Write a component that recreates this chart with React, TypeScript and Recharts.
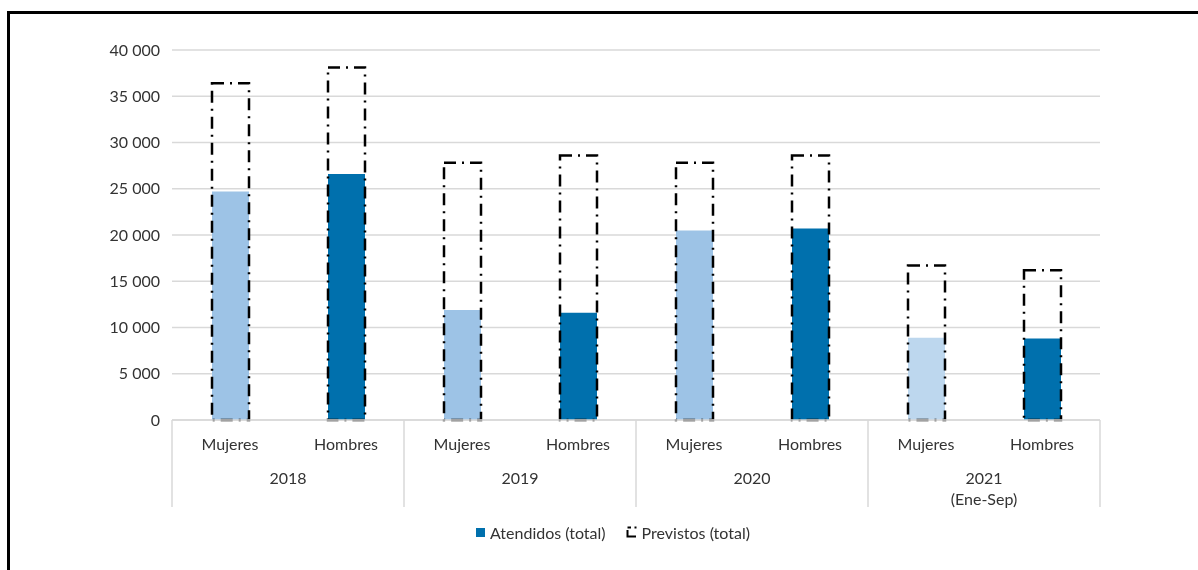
import React from 'react';
import { BarChart, Bar, XAxis, YAxis, CartesianGrid, Legend, Cell } from 'recharts';

// Categories
const years = ['2018', '2019', '2020', '2021'];
const yearNotes = ['', '', '', '(Ene-Sep)'];
const sexes = ['Mujeres', 'Hombres'];

// Series values, in the order 2018 Mujeres, 2018 Hombres, 2019 Mujeres, ...
const atendidos = [24700, 26600, 11900, 11600, 20500, 20700, 8900, 8800];
const previstos = [36400, 38100, 27800, 28600, 27800, 28600, 16700, 16200];

// Fill for each Atendidos bar
const barColors = ['#9DC3E6', '#0070AD', '#9DC3E6', '#0070AD', '#9DC3E6', '#0070AD', '#BDD7EE', '#0070AD'];

// Value axis ticks
const yTicks = [0, 5000, 10000, 15000, 20000, 25000, 30000, 35000, 40000];

const seriesNames = { atendidos: 'Atendidos (total)', previstos: 'Previstos (total)' };

const rows = years.flatMap((year, yi) =>
  sexes.map((sex, si) => {
    const i = yi * sexes.length + si;
    return {
      id: `${year}-${sex}`,
      year,
      note: yearNotes[yi],
      sex,
      atendidos: atendidos[i],
      previstos: previstos[i],
    };
  })
);

const FONT = 'Lato, "Noto Sans", sans-serif';
const TEXT = '#333333';
const GRID = '#d9d9d9';
const DASH = '12 6 2 6';

const formatThousands = (v: number) => String(v).replace(/\B(?=(\d{3})+(?!\d))/g, ' ');

// Two-level category tick: sex label per bar, year label centred under each pair
function CategoryTick(props: any) {
  const { x, y, payload, index } = props;
  const half = payload && typeof payload.offset === 'number' && payload.offset > 0 ? payload.offset : 58;
  const row = rows[index];
  if (!row) return null;
  const first = index % sexes.length === 0;
  const last = index === rows.length - 1;
  const textStyle = { fontFamily: FONT, fontSize: 16, fill: TEXT };
  return (
    <g>
      <text x={x} y={y + 23} textAnchor="middle" dominantBaseline="central" style={textStyle}>
        {row.sex}
      </text>
      {first && (
        <line x1={x - half} x2={x - half} y1={y} y2={y + 87} stroke={GRID} strokeWidth={1.5} />
      )}
      {first && (
        <text x={x + half} y={y + 57} textAnchor="middle" dominantBaseline="central" style={textStyle}>
          {row.year}
        </text>
      )}
      {first && row.note && (
        <text x={x + half} y={y + 78} textAnchor="middle" dominantBaseline="central" style={textStyle}>
          {row.note}
        </text>
      )}
      {last && (
        <line x1={x + half} x2={x + half} y1={y} y2={y + 87} stroke={GRID} strokeWidth={1.5} />
      )}
    </g>
  );
}

function LegendContent() {
  return (
    <div
      style={{
        height: 30,
        display: 'flex',
        alignItems: 'center',
        paddingLeft: 468,
        paddingTop: 4,
        boxSizing: 'border-box',
        fontFamily: FONT,
        fontSize: 16,
        color: TEXT,
        whiteSpace: 'nowrap',
      }}
    >
      <span style={{ display: 'inline-block', width: 9, height: 9, background: '#0070AD', marginRight: 5 }} />
      <span>{seriesNames.atendidos}</span>
      <svg width={12} height={12} style={{ marginLeft: 20, marginRight: 4 }}>
        <path d="M1.5 4 V10.5 H10" stroke="#000" strokeWidth={2} fill="none" />
        <path d="M1.5 1.5 H5" stroke="#000" strokeWidth={2} fill="none" />
        <rect x={8.5} y={0.5} width={2} height={2} fill="#000" />
      </svg>
      <span>{seriesNames.previstos}</span>
    </div>
  );
}

export default function App() {
  return (
    <div style={{ position: 'relative', width: 1190, height: 552 }}>
      <div
        style={{
          position: 'fixed',
          left: 7,
          top: 11,
          width: 1400,
          height: 800,
          borderTop: '3px solid #000',
          borderLeft: '3px solid #000',
          pointerEvents: 'none',
        }}
      />
      <BarChart
        width={1190}
        height={552}
        data={rows}
        margin={{ top: 42, right: 98, left: 0, bottom: 15 }}
        style={{ fontFamily: FONT }}
      >
        <CartesianGrid vertical={false} stroke={GRID} strokeWidth={1.5} />
        <XAxis
          xAxisId="a"
          dataKey="id"
          type="category"
          interval={0}
          height={95}
          tickSize={0}
          tickMargin={0}
          tickLine={false}
          axisLine={{ stroke: GRID, strokeWidth: 1.5 }}
          tick={<CategoryTick />}
        />
        <XAxis xAxisId="b" dataKey="id" type="category" hide />
        <YAxis
          width={164}
          domain={[0, 40000]}
          ticks={yTicks}
          interval={0}
          axisLine={false}
          tickLine={false}
          tickMargin={6}
          tickFormatter={formatThousands}
          tick={{ fontFamily: FONT, fontSize: 16, fill: TEXT }}
        />
        <Legend verticalAlign="bottom" wrapperStyle={{ left: 0, width: 1190 }} content={<LegendContent />} />
        <Bar xAxisId="a" dataKey="atendidos" name={seriesNames.atendidos} barSize={37} isAnimationActive={false}>
          {rows.map((r, i) => (
            <Cell key={r.id} fill={barColors[i]} />
          ))}
        </Bar>
        <Bar
          xAxisId="b"
          dataKey="previstos"
          name={seriesNames.previstos}
          barSize={37}
          fill="none"
          stroke="#000"
          strokeWidth={2.5}
          strokeDasharray={DASH}
          isAnimationActive={false}
        />
      </BarChart>
    </div>
  );
}
